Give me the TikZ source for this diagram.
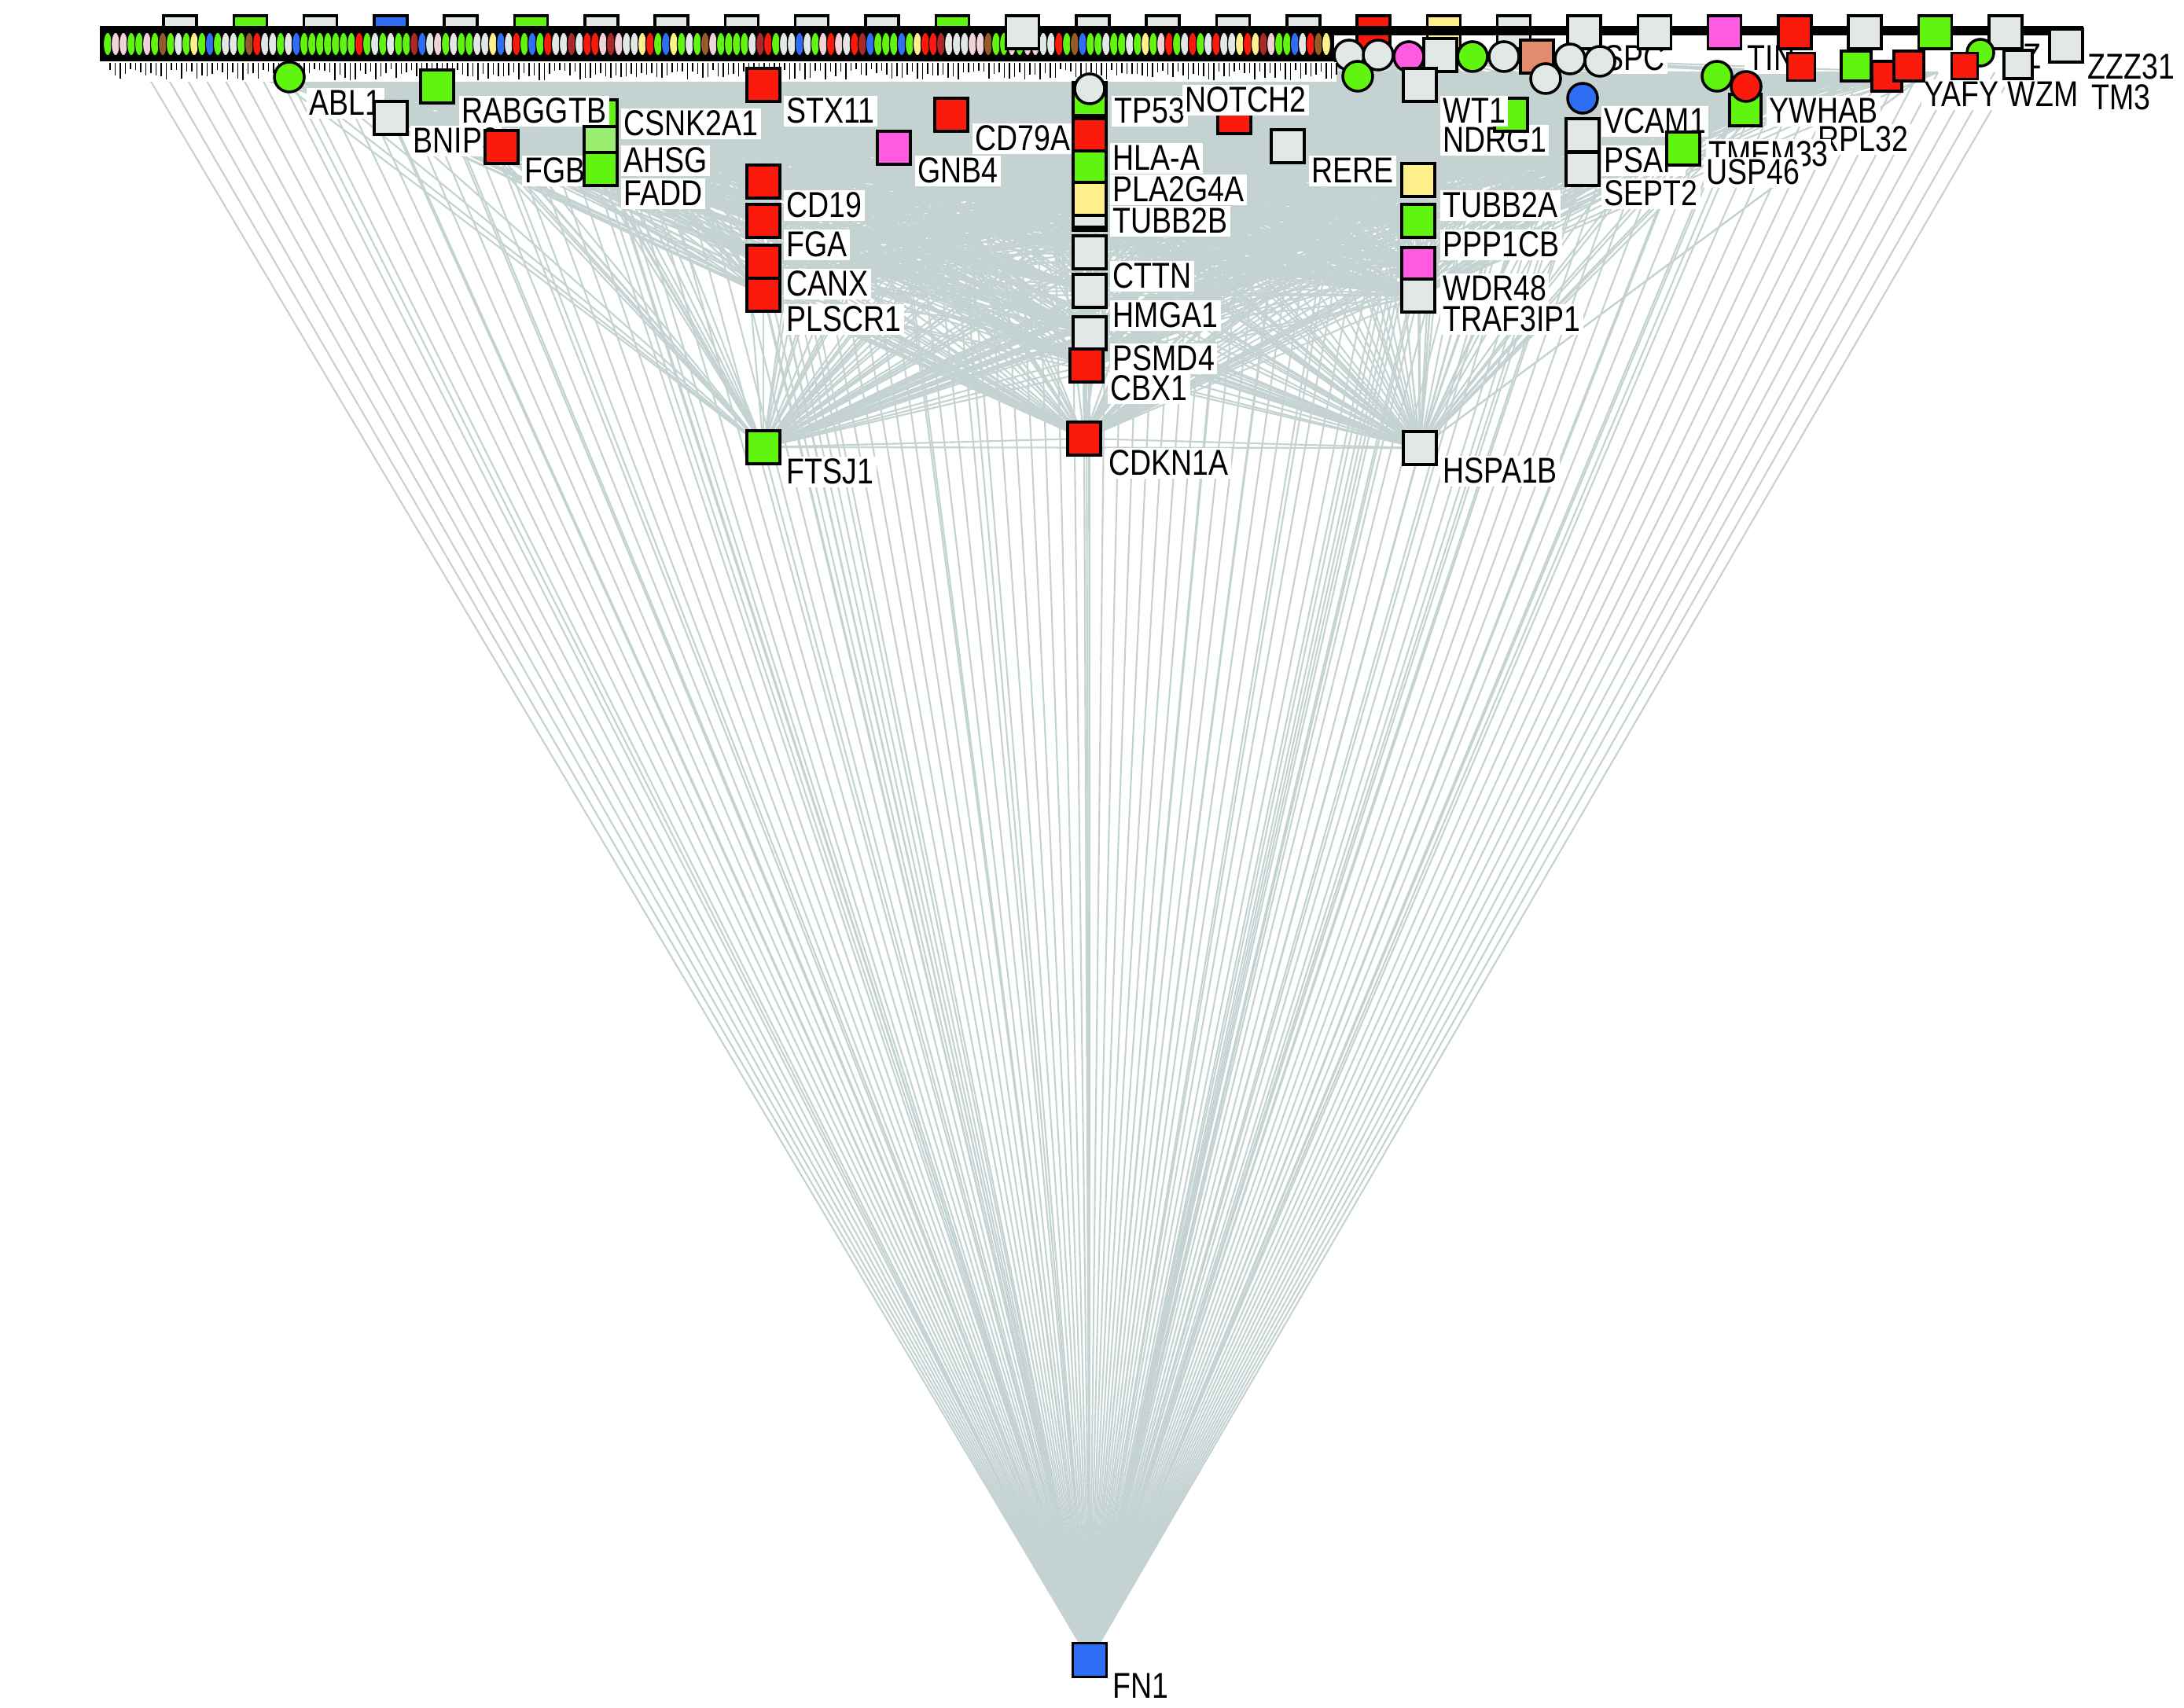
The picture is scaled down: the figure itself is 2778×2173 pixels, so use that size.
\documentclass[tikz,border=0pt]{standalone}
\usepackage{fontspec}
\newfontfamily\labfont[FakeStretch=0.82]{Liberation Sans}
\usetikzlibrary{shapes.geometric}
\pgfdeclarelayer{bg}
\pgfdeclarelayer{edges}
\pgfsetlayers{bg,edges,main}
\definecolor{cg}{RGB}{95,245,15}
\definecolor{cw}{RGB}{226,232,230}
\definecolor{cp}{RGB}{240,210,215}
\definecolor{cr}{RGB}{250,25,10}
\definecolor{cdr}{RGB}{170,40,40}
\definecolor{cb}{RGB}{45,110,245}
\definecolor{cbr}{RGB}{150,90,40}
\definecolor{cy}{RGB}{255,240,140}
\definecolor{cpk}{RGB}{255,90,225}
\definecolor{csal}{RGB}{225,140,110}
\definecolor{edg}{RGB}{196,210,210}
\newcommand\pickcol[1]{\ifcase#1\relax \def\mycc{cg}\or\def\mycc{cg}\or\def\mycc{cg}\or\def\mycc{cg}\or\def\mycc{cg}\or\def\mycc{cg}\or\def\mycc{cg}\or\def\mycc{cg}\or\def\mycc{cw}\or\def\mycc{cw}\or\def\mycc{cw}\or\def\mycc{cw}\or\def\mycc{cw}\or\def\mycc{cp}\or\def\mycc{cp}\or\def\mycc{cr}\or\def\mycc{cr}\or\def\mycc{cdr}\or\def\mycc{cb}\or\def\mycc{cbr}\else\def\mycc{cy}\fi}
\begin{document}
\begin{tikzpicture}[x=0.01cm,y=-0.01cm,
 sq/.style={rectangle,draw=black,line width=1pt,minimum size=0.42cm,inner sep=0pt},
 hx/.style={circle,draw=black,line width=1pt,minimum size=0.38cm,inner sep=0pt},
 cellst/.style={ellipse,draw=black,line width=0.35pt,minimum width=0.11cm,minimum height=0.3cm,inner sep=0pt},
 lab/.style={font={\labfont\fontsize{13}{15}\selectfont},fill=white,inner sep=1pt,anchor=base west,xshift=-1pt,text=black},
 edgest/.style={draw=edg,line width=0.6pt}]
\begin{pgfonlayer}{bg}
\fill[white] (0,0) rectangle (2778,2173);
\end{pgfonlayer}
\useasboundingbox (0,0) rectangle (2778,2173);
\pgfmathsetseed{4711}
% free ends of connectors along the top row
\foreach \i in {0,...,199}{\pgfmathsetmacro\tx{185+12*\i}\coordinate (tp\i) at (\tx,92);}
% top row squares (behind band)
\foreach \k/\col in {0/cw,1/cg,2/cw,3/cb,4/cw,5/cg,6/cw,7/cw,8/cw,9/cw,10/cw,11/cg,13/cw,14/cw,15/cw,16/cw,17/cr,18/cy,19/cw}{\pgfmathsetmacro\sx{229+89.3*\k}\node[sq,fill=\col] (s\k) at (\sx,41) {};}
% band
\fill[black] (127,33) rectangle (1697,78);
\foreach \i in {0,...,155}{\pgfmathrandominteger{\rc}{0}{20}\pickcol{\rc}\pgfmathsetmacro\cx{137+10*\i}\node[cellst,fill=\mycc] (c\i) at (\cx,56) {};}
\fill[black] (1697,33) rectangle (2650,45);
% top right label fragments
\node[lab] (f1) at (2040,90) {SPC};
\node[lab] (f2) at (2222,90) {TIN};
\node[lab] (f3) at (2573,88) {Z};
\node[lab] (f4) at (2655,101) {ZZZ31};
\node[lab] (f5) at (2447,136) {YAFY};
\node[lab] (f6) at (2553,136) {WZM};
\node[lab] (f7) at (2660,140) {TM3};
% top row squares (in front)
\foreach \k/\col in {12/cw,20/cw,21/cw,22/cpk,23/cr,24/cw,25/cg,26/cw}{\pgfmathsetmacro\sx{229+89.3*\k}\node[sq,fill=\col] (s\k) at (\sx,41) {};}
\node[sq,fill=cw] (s27) at (2628,58) {};
% right band shapes
\node[hx,fill=cw] (r1) at (1716,70) {};
\node[hx,fill=cw] (r2) at (1753,70) {};
\node[hx,fill=cpk] (r3) at (1792,72) {};
\node[sq,fill=cw] (r4) at (1832,70) {};
\node[hx,fill=cg] (r5) at (1873,72) {};
\node[hx,fill=cw] (r6) at (1913,72) {};
\node[sq,fill=csal] (r7) at (1955,72) {};
\node[hx,fill=cw] (r8) at (1997,75) {};
\node[hx,fill=cw] (r9) at (2035,78) {};
\node[hx,fill=cg] (r10) at (1727,97) {};
\node[hx,fill=cw] (r11) at (1966,100) {};
\node[hx,fill=cg] (r12) at (2184,97) {};
\node[sq,fill=cr,minimum size=0.35cm] (r13) at (2291,85) {};
\node[sq,fill=cg,minimum size=0.38cm] (r14) at (2361,84) {};
\node[sq,fill=cr,minimum size=0.38cm] (r15) at (2400,97) {};
\node[sq,fill=cr,minimum size=0.38cm] (r16) at (2428,84) {};
\node[hx,fill=cg,minimum size=0.34cm] (r17) at (2519,67) {};
\node[sq,fill=cr,minimum size=0.33cm] (r18) at (2499,84) {};
\node[sq,fill=cw,minimum size=0.36cm] (r19) at (2567,82) {};
% squeezed label row below band
\fill[white] (135,79) rectangle (1700,104);
\foreach \i in {0,...,240}{\pgfmathsetmacro\hx{140+6.5*\i}\pgfmathsetmacro\hl{8+14*rnd}\draw[line width=0.5pt] (\hx,80) -- ++(0,\hl);}
% left group
\node[hx,fill=cg] (abl) at (368,98) {};
\node[lab] (abl-l) at (393,147) {ABL1};
\node[sq,fill=cg] (csnk) at (764,148) {};
\node[sq,fill=cg] (rab) at (556,110) {};
\node[lab] (rab-l) at (587,157) {RABGGTB};
\node[sq,fill=cw] (bnip) at (497,150) {};
\node[lab] (bnip-l) at (525,195) {BNIP3};
\node[lab] (csnk-l) at (793,173) {CSNK2A1};
\node[sq,fill=cr] (fgb) at (638,187) {};
\node[lab] (fgb-l) at (667,233) {FGB};
\node[sq,fill=cg!55!cw] (ahsg) at (764,182) {};
\node[lab] (ahsg-l) at (793,220) {AHSG};
\node[sq,fill=cg] (fadd) at (764,215) {};
\node[lab] (fadd-l) at (793,262) {FADD};
% second column
\node[sq,fill=cr] (stx) at (971,108) {};
\node[lab] (stx-l) at (1000,157) {STX11};
\node[sq,fill=cr] (cd19) at (971,231) {};
\node[lab] (cd19-l) at (1000,277) {CD19};
\node[sq,fill=cr] (fga) at (971,281) {};
\node[lab] (fga-l) at (1000,327) {FGA};
\node[sq,fill=cr] (canx) at (971,333) {};
\node[lab] (canx-l) at (1000,377) {CANX};
\node[sq,fill=cr] (plscr) at (971,375) {};
\node[lab] (plscr-l) at (1000,422) {PLSCR1};
\node[sq,fill=cg] (ftsj) at (971,569) {};
\node[lab] (ftsj-l) at (1000,616) {FTSJ1};
\node[sq,fill=cr] (cd79) at (1210,146) {};
\node[lab] (cd79-l) at (1240,192) {CD79A};
\node[sq,fill=cpk] (gnb) at (1137,188) {};
\node[lab] (gnb-l) at (1167,233) {GNB4};
% middle column
\node[sq,fill=cg] (s9a) at (1386,126) {};
\node[hx,fill=cw] (tp53) at (1386,113) {};
\node[lab] (tp53-l) at (1417,157) {TP53};
\node[sq,fill=cr] (hla) at (1386,172) {};
\node[lab] (hla-l) at (1415,217) {HLA-A};
\node[sq,fill=cg] (pla) at (1386,213) {};
\node[lab] (pla-l) at (1415,257) {PLA2G4A};
\node[sq,fill=cg] (gem1) at (1386,272) {};
\node[sq,fill=cw] (gem2) at (1386,268) {};
\node[sq,fill=cy] (tubbb) at (1386,253) {};
\node[lab] (tubbb-l) at (1415,297) {TUBB2B};
\node[sq,fill=cw] (cttn) at (1386,321) {};
\node[lab] (cttn-l) at (1415,367) {CTTN};
\node[sq,fill=cw] (hmga) at (1386,370) {};
\node[lab] (hmga-l) at (1415,417) {HMGA1};
\node[sq,fill=cw] (psmd) at (1386,424) {};
\node[lab] (psmd-l) at (1415,472) {PSMD4};
\node[sq,fill=cr] (cbx) at (1382,465) {};
\node[lab] (cbx-l) at (1412,510) {CBX1};
\node[sq,fill=cr] (cdkn) at (1379,558) {};
\node[lab] (cdkn-l) at (1410,605) {CDKN1A};
% NOTCH2 / RERE
\node[sq,fill=cr] (notch) at (1570,149) {};
\node[lab] (notch-l) at (1507,143) {NOTCH2};
\node[sq,fill=cw] (rere) at (1638,186) {};
\node[lab] (rere-l) at (1668,233) {RERE};
% right column
\node[lab] (ndrg-l) at (1835,194) {NDRG1};
\node[sq,fill=cg] (ndrg) at (1922,146) {};
\node[sq,fill=cw] (wt) at (1806,108) {};
\node[lab] (wt-l) at (1835,157) {WT1};
\node[sq,fill=cy] (tubba) at (1804,229) {};
\node[lab] (tubba-l) at (1835,277) {TUBB2A};
\node[sq,fill=cg] (ppp) at (1804,281) {};
\node[lab] (ppp-l) at (1835,327) {PPP1CB};
\node[sq,fill=cpk] (wdr) at (1804,336) {};
\node[lab] (wdr-l) at (1835,383) {WDR48};
\node[sq,fill=cw] (traf) at (1804,376) {};
\node[lab] (traf-l) at (1835,422) {TRAF3IP1};
\node[sq,fill=cw] (hspa) at (1806,570) {};
\node[lab] (hspa-l) at (1835,615) {HSPA1B};
\node[hx,fill=cb] (vcam) at (2013,125) {};
\node[lab] (vcam-l) at (2040,170) {VCAM1};
\node[sq,fill=cw] (psap) at (2013,172) {};
\node[lab] (psap-l) at (2040,220) {PSAP};
\node[sq,fill=cw] (sept) at (2013,215) {};
\node[lab] (sept-l) at (2040,262) {SEPT2};
% far right
\node[sq,fill=cg,minimum size=0.4cm] (tmem) at (2220,140) {};
\node[hx,fill=cr] (ywhab) at (2221,110) {};
\node[lab] (ywhab-l) at (2250,157) {YWHAB};
\node[lab] (rpl-l) at (2312,193) {RPL32};
\node[lab] (tmem-l) at (2173,212) {TMEM33};
\node[sq,fill=cg] (usp) at (2141,189) {};
\node[lab] (usp-l) at (2170,235) {USP46};
% FN1
\node[sq,fill=cb,minimum size=0.43cm] (fn1) at (1386,2112) {};
\node[lab] (fn1-l) at (1415,2160) {FN1};
% connectors
\def\hubs{cd19,fga,canx,plscr,ftsj,stx,fadd,fgb,rab,bnip,gnb,cd79,tp53,hla,pla,tubbb,cttn,hmga,psmd,cbx,cdkn,rere,wt,tubba,ppp,wdr,traf,hspa,psap,sept,usp,ywhab,notch,ndrg,s9a,gem2,ahsg,csnk,vcam,tmem,abl,r10,r11,r4}
\begin{pgfonlayer}{edges}
\foreach \i in {0,2,...,198}{\draw[edgest] (fn1) -- (tp\i);}
\foreach \a in \hubs{\draw[edgest] (fn1) -- (\a);}
\foreach \a [count=\i] in \hubs{\foreach \b [count=\j] in \hubs{\ifnum\j>\i\relax\draw[edgest] (\a) -- (\b);\fi}}
\foreach \a in \hubs{\foreach \k in {1,...,40}{\pgfmathrandominteger{\rr}{10}{190}\draw[edgest] (\a) -- (tp\rr);}}
\end{pgfonlayer}
\end{tikzpicture}
\end{document}
